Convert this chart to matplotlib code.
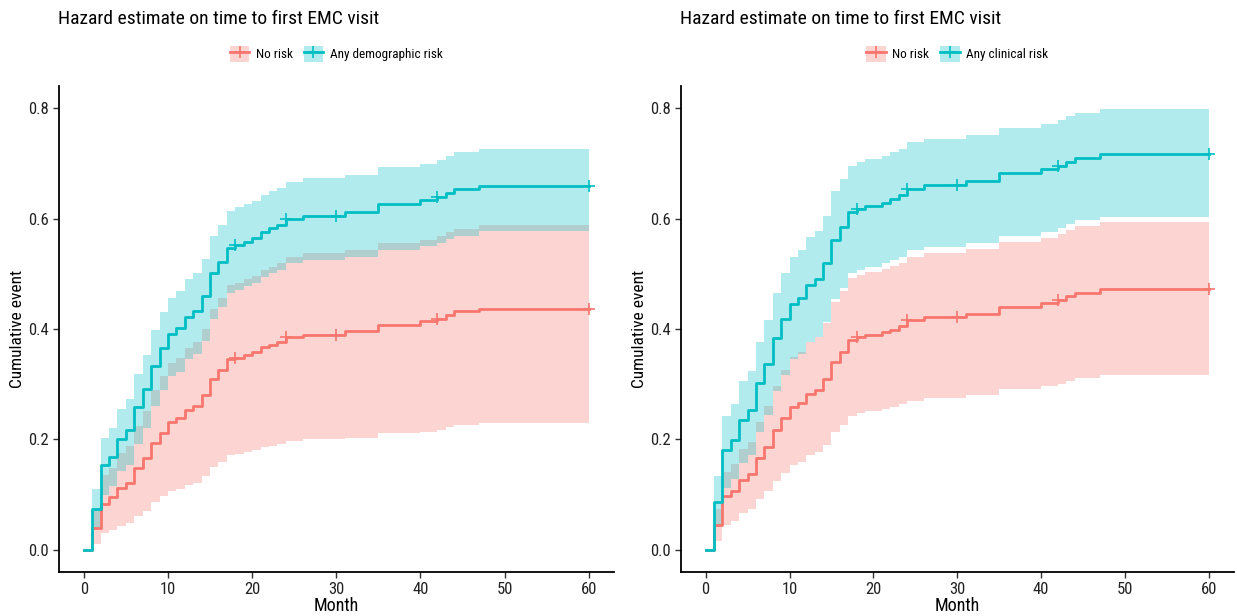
import numpy as np
import matplotlib
matplotlib.use("Agg")
import matplotlib.pyplot as plt
from matplotlib.patches import Patch
from matplotlib.lines import Line2D

plt.rcParams['font.family'] = ['Roboto Condensed', 'DejaVu Sans']

RED = "#F8766D"
TEAL = "#00BFC4"

# event times (months)
t = [0, 1, 2, 3, 4, 5, 6, 7, 8, 9, 10, 11, 12, 13, 14, 15, 16, 17, 18, 19, 20,
     21, 22, 23, 24, 26, 31, 35, 40, 42, 43, 44, 47, 60]
censor_t = [18, 24, 30, 42, 60]

# left panel: demographic risk
demo_risk = [0, 0.074, 0.153, 0.169, 0.201, 0.217, 0.259, 0.291, 0.333, 0.365, 0.391, 0.401,
             0.422, 0.433, 0.459, 0.501, 0.522, 0.546, 0.552, 0.558, 0.564, 0.576, 0.582, 0.588,
             0.600, 0.605, 0.612, 0.626, 0.633, 0.639, 0.647, 0.653, 0.659, 0.659]
demo_risk_hi = [0, 0.110, 0.203, 0.221, 0.256, 0.273, 0.319, 0.353, 0.398, 0.430, 0.457, 0.469,
                0.490, 0.501, 0.527, 0.568, 0.589, 0.614, 0.620, 0.626, 0.632, 0.643, 0.650, 0.656,
                0.667, 0.673, 0.679, 0.693, 0.699, 0.706, 0.713, 0.720, 0.726, 0.726]
demo_risk_lo = [0, 0.038, 0.100, 0.115, 0.142, 0.154, 0.192, 0.220, 0.261, 0.290, 0.314, 0.323,
                0.345, 0.355, 0.379, 0.419, 0.440, 0.466, 0.471, 0.477, 0.483, 0.495, 0.501, 0.507,
                0.519, 0.525, 0.531, 0.543, 0.550, 0.556, 0.563, 0.569, 0.577, 0.577]
demo_none = [0, 0.039, 0.084, 0.095, 0.112, 0.122, 0.148, 0.167, 0.193, 0.211, 0.231, 0.238,
             0.253, 0.261, 0.281, 0.309, 0.325, 0.345, 0.348, 0.353, 0.358, 0.367, 0.371, 0.376,
             0.386, 0.390, 0.397, 0.408, 0.414, 0.419, 0.425, 0.432, 0.437, 0.437]
demo_none_hi = [0, 0.071, 0.136, 0.148, 0.175, 0.188, 0.224, 0.252, 0.290, 0.315, 0.339, 0.348,
                0.366, 0.376, 0.400, 0.437, 0.457, 0.480, 0.484, 0.490, 0.496, 0.507, 0.513, 0.520,
                0.531, 0.537, 0.543, 0.555, 0.561, 0.568, 0.575, 0.581, 0.588, 0.588]
demo_none_lo = [0, 0.011, 0.030, 0.036, 0.044, 0.049, 0.062, 0.071, 0.086, 0.097, 0.107, 0.110,
                0.118, 0.122, 0.133, 0.151, 0.160, 0.171, 0.174, 0.177, 0.181, 0.186, 0.189, 0.192,
                0.198, 0.201, 0.203, 0.211, 0.214, 0.218, 0.223, 0.226, 0.230, 0.230]

# right panel: clinical risk
clin_risk = [0, 0.087, 0.181, 0.199, 0.235, 0.253, 0.302, 0.337, 0.383, 0.418, 0.445, 0.457,
             0.480, 0.490, 0.519, 0.561, 0.585, 0.611, 0.617, 0.623, 0.623, 0.629, 0.635, 0.643,
             0.653, 0.660, 0.668, 0.683, 0.690, 0.696, 0.703, 0.710, 0.717, 0.717]
clin_risk_hi = [0, 0.133, 0.243, 0.264, 0.305, 0.324, 0.377, 0.416, 0.466, 0.502, 0.531, 0.543,
                0.566, 0.577, 0.605, 0.649, 0.671, 0.696, 0.702, 0.708, 0.708, 0.714, 0.720, 0.726,
                0.738, 0.744, 0.751, 0.764, 0.772, 0.778, 0.785, 0.791, 0.798, 0.798]
clin_risk_lo = [0, 0.042, 0.112, 0.128, 0.158, 0.172, 0.214, 0.244, 0.287, 0.317, 0.345, 0.354,
                0.376, 0.386, 0.412, 0.454, 0.475, 0.502, 0.507, 0.513, 0.513, 0.519, 0.525, 0.531,
                0.543, 0.549, 0.556, 0.569, 0.576, 0.583, 0.590, 0.597, 0.603, 0.603]
clin_none = [0, 0.045, 0.097, 0.106, 0.127, 0.137, 0.166, 0.186, 0.217, 0.238, 0.258, 0.266,
             0.282, 0.290, 0.309, 0.341, 0.359, 0.380, 0.385, 0.389, 0.389, 0.394, 0.399, 0.406,
             0.416, 0.421, 0.428, 0.440, 0.447, 0.452, 0.460, 0.466, 0.472, 0.472]
clin_none_hi = [0, 0.074, 0.141, 0.155, 0.182, 0.196, 0.232, 0.261, 0.297, 0.325, 0.350, 0.358,
                0.376, 0.385, 0.410, 0.448, 0.468, 0.492, 0.497, 0.503, 0.503, 0.509, 0.514, 0.520,
                0.531, 0.538, 0.545, 0.558, 0.565, 0.572, 0.579, 0.586, 0.593, 0.593]
clin_none_lo = [0, 0.017, 0.045, 0.052, 0.066, 0.074, 0.092, 0.106, 0.125, 0.140, 0.154, 0.160,
                0.171, 0.177, 0.190, 0.213, 0.227, 0.243, 0.247, 0.252, 0.252, 0.255, 0.259, 0.264,
                0.270, 0.275, 0.281, 0.291, 0.296, 0.300, 0.306, 0.311, 0.317, 0.317]

title = "Hazard estimate on time to first EMC visit"


def step_val(times, vals, x):
    idx = np.searchsorted(times, x, side="right") - 1
    return np.asarray(vals)[idx]


def draw_panel(ax, curves):
    tt = np.array(t, dtype=float)
    # ribbons first (start at first event time)
    for est, lo, hi, col in curves:
        ax.fill_between(tt[1:], np.array(lo)[1:], np.array(hi)[1:], step="post",
                        color=col, alpha=0.3, lw=0)
    for est, lo, hi, col in curves:
        ax.step(tt, est, where="post", color=col, lw=2.0)
        ct = np.array(censor_t, dtype=float)
        ax.plot(ct, step_val(tt, est, ct), ls="none", marker="+", ms=8, mew=1.2, color=col)
    ax.set_xlim(-3, 63)
    ax.set_ylim(-0.04, 0.84)
    ax.set_xticks([0, 10, 20, 30, 40, 50, 60])
    ax.set_yticks([0.0, 0.2, 0.4, 0.6, 0.8])
    ax.set_yticklabels(["0.0", "0.2", "0.4", "0.6", "0.8"])
    for s in ["top", "right"]:
        ax.spines[s].set_visible(False)
    for s in ["left", "bottom"]:
        ax.spines[s].set_linewidth(1.3)
        ax.spines[s].set_color("black")
    ax.tick_params(labelsize=12, length=4, width=1.0, colors="#333333", labelcolor="#222222", pad=3)
    ax.set_xlabel("Month", fontsize=13, labelpad=0)
    ax.set_ylabel("Cumulative event", fontsize=12.5, labelpad=2)


fig = plt.figure(figsize=(12.37, 6.16), dpi=100)
W, H = 1237, 616
ax1 = fig.add_axes([58.5 / W, 1 - 572 / H, (614 - 58.5) / W, (572 - 86) / H])
ax2 = fig.add_axes([680.5 / W, 1 - 572 / H, (1234 - 680.5) / W, (572 - 86) / H])

draw_panel(ax1, [(demo_none, demo_none_lo, demo_none_hi, RED),
                 (demo_risk, demo_risk_lo, demo_risk_hi, TEAL)])
draw_panel(ax2, [(clin_none, clin_none_lo, clin_none_hi, RED),
                 (clin_risk, clin_risk_lo, clin_risk_hi, TEAL)])

for ax, x0, lab in [(ax1, 58, "Any demographic risk"), (ax2, 680, "Any clinical risk")]:
    fig.text(x0 / W, 1 - 19 / H, title, fontsize=14, ha="left", va="center")
    handles = []
    for col in [RED, TEAL]:
        handles.append((Patch(facecolor=col, alpha=0.3, lw=0),
                        Line2D([], [], color=col, lw=2, marker="+", ms=9, mew=1.2)))
    bb = ax.get_position()
    fig.legend(handles, ["No risk", lab], loc="center", ncol=2, frameon=False,
               bbox_to_anchor=((bb.x0 + bb.x1) / 2, 1 - 54 / H), fontsize=9.5,
               handlelength=1.5, handleheight=1.5, handletextpad=0.5, columnspacing=0.8)

fig.savefig("out.png", dpi=100)
